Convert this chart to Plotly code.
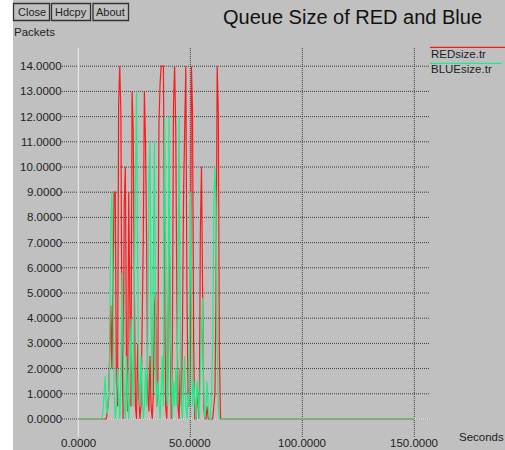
import plotly.graph_objects as go

# ---- data -------------------------------------------------------------
SERIES_NAMES = ["REDsize.tr", "BLUEsize.tr"]

# queue length samples every 0.5 s starting at t = 10.0 s (one row = 5 s)
T_START = 10.0
DT = 0.5
T_END = 150.0

RED_QUEUE = [
    0, 0, 0, 0, 0, 0, 0.3, 0.8, 2.5, 4.5,
    2.0, 6.0, 9.0, 9.0, 1.5, 0.5, 12.5, 14.0, 12.2, 3.0,
    0.0, 8.5, 10.0, 2.5, 0.3, 9.0, 4.0, 0.5, 13.0, 11.5,
    5.5, 0.5, 0.0, 3.0, 1.0, 0.0, 0.5, 3.5, 7.0, 13.0,
    11.0, 7.0, 1.0, 0.3, 2.5, 0.5, 0.0, 1.0, 4.5, 5.0,
    0.5, 1.0, 11.7, 13.3, 14.0, 14.0, 14.0, 6.0, 0.5, 0.0,
    2.0, 8.0, 2.5, 0.0, 3.0, 12.5, 14.0, 11.5, 5.0, 0.5,
    0.0, 2.0, 0.5, 3.5, 9.0, 12.5, 14.0, 5.0, 1.0, 0.5,
    3.0, 14.0, 12.2, 3.0, 0.0, 0.0, 1.0, 0.5, 0.0, 7.5,
    10.0, 5.0, 0.5, 0.0, 0.0, 0.5, 0.0, 0.0, 0.0, 0.0,
    0.0, 0.5, 1.0, 5.0, 14.0, 12.2, 2.5, 0.0, 0.0, 0.0,
]

BLUE_QUEUE = [
    0, 0, 0.3, 1.2, 1.7, 0.5, 0.2, 1.0, 2.0, 7.5,
    9.0, 5.0, 1.0, 0.0, 0.5, 2.0, 0.5, 0.0, 1.5, 5.8,
    3.0, 0.5, 0.0, 2.5, 1.0, 0.0, 1.0, 4.0, 2.0, 0.5,
    5.5, 10.0, 13.0, 6.0, 1.5, 0.5, 2.5, 1.0, 0.0, 0.5,
    2.0, 0.5, 3.0, 9.5, 11.0, 4.0, 1.0, 6.0, 11.0, 3.0,
    0.5, 1.5, 0.5, 0.0, 1.0, 2.5, 0.5, 12.0, 7.0, 1.0,
    0.5, 12.0, 4.0, 1.0, 0.0, 1.5, 0.5, 2.0, 0.5, 5.0,
    12.0, 3.0, 0.5, 0.0, 1.0, 2.5, 0.5, 0.0, 1.0, 0.5,
    9.0, 3.0, 0.5, 1.5, 0.5, 0.0, 1.5, 0.5, 0.0, 2.0,
    3.5, 4.8, 1.0, 0.0, 0.5, 1.5, 0.5, 0.0, 0.0, 1.0,
    3.0, 8.5, 10.0, 8.5, 3.0, 0.5, 0.0, 0.0, 0.0, 0.0,
]

Y_TICKS = [0, 1, 2, 3, 4, 5, 6, 7, 8, 9, 10, 11, 12, 13, 14]
X_TICKS = [0, 50, 100, 150]

TITLE = "Queue Size of RED and Blue"
Y_LABEL = "Packets"
X_LABEL = "Seconds"
BUTTONS = ["Close", "Hdcpy", "About"]

# ---- geometry / style -------------------------------------------------
W, H = 505, 450
X0_PX, X_SCALE = 78.3, 2.24      # pixel of t=0, pixels per second
Y0_PX, Y_SCALE = 419.0, 25.2     # pixel of q=0, pixels per packet

BG = "#c0c0c0"
TEXT = "#1e1e1e"
GRID = "#3c3c3c"
AXIS = "#ececec"
COLORS = ["#ff1a1a", "#1aef85"]
FONT = "Liberation Sans, Arial, sans-serif"
FS = 11.5


def t_at(px):
    return (px - X0_PX) / X_SCALE


def q_at(py):
    return (Y0_PX - py) / Y_SCALE


def fx(px):
    return px / W


def fy(py):
    return 1 - py / H


fig = go.Figure()

for name, values, color in zip(SERIES_NAMES, [RED_QUEUE, BLUE_QUEUE], COLORS):
    times = [0.0] + [T_START + DT * i for i in range(len(values))] + [T_END]
    queue = [0.0] + list(values) + [0.0]
    fig.add_trace(go.Scatter(
        x=times, y=queue, mode="lines", name=name,
        line=dict(color=color, width=1.2), showlegend=False,
        hoverinfo="skip",
    ))

shapes = []
annotations = []

# dotted grid lines
for q in Y_TICKS:
    shapes.append(dict(type="line", xref="x", yref="y",
                       x0=t_at(62), x1=t_at(429.3), y0=q, y1=q,
                       line=dict(color=GRID, width=1, dash="1px,1px"),
                       layer="below"))
    annotations.append(dict(xref="x", yref="y", x=t_at(62), y=q,
                            text=f"{q:.4f}", showarrow=False,
                            xanchor="right", yanchor="middle",
                            borderpad=0, borderwidth=0,
                            font=dict(family=FONT, size=FS, color=TEXT)))

for t in X_TICKS:
    if t != 0:
        shapes.append(dict(type="line", xref="x", yref="y",
                           x0=t, x1=t, y0=q_at(437), y1=q_at(47),
                           line=dict(color=GRID, width=1, dash="1px,1px"),
                           layer="below"))
    annotations.append(dict(xref="x", yref="paper", x=t, y=fy(443.2),
                            text=f"{t:.4f}", showarrow=False,
                            xanchor="center", yanchor="middle",
                            borderpad=0, borderwidth=0,
                            font=dict(family=FONT, size=FS, color=TEXT)))

# light axis lines
shapes.append(dict(type="line", xref="x", yref="y",
                   x0=0, x1=0, y0=q_at(437), y1=q_at(48),
                   line=dict(color=AXIS, width=1), layer="below"))
shapes.append(dict(type="line", xref="x", yref="y",
                   x0=0, x1=t_at(429.3), y0=0, y1=0,
                   line=dict(color=AXIS, width=1), layer="below"))

# white strip on the left edge
shapes.append(dict(type="rect", xref="paper", yref="paper",
                   x0=0, x1=fx(13), y0=0, y1=1,
                   fillcolor="white", line=dict(width=0), layer="above"))

# buttons
button_boxes = [(13.5, 49.5), (51.5, 90.5), (93.0, 128.5)]
for label, (bx0, bx1) in zip(BUTTONS, button_boxes):
    shapes.append(dict(type="rect", xref="paper", yref="paper",
                       x0=fx(bx0), x1=fx(bx1), y0=fy(20.5), y1=fy(3.5),
                       line=dict(color="#333333", width=1.3),
                       fillcolor="rgba(0,0,0,0)", layer="above"))
    annotations.append(dict(xref="paper", yref="paper",
                            x=fx((bx0 + bx1) / 2), y=fy(12.3),
                            text=label, showarrow=False,
                            xanchor="center", yanchor="middle",
                            borderpad=0, borderwidth=0,
                            font=dict(family=FONT, size=11, color=TEXT)))

# title and axis names
annotations.append(dict(xref="paper", yref="paper", x=fx(352), y=fy(17.5),
                        text=TITLE, showarrow=False, xanchor="center",
                        yanchor="middle", borderpad=0, borderwidth=0,
                        font=dict(family=FONT, size=20, color="#111111")))
annotations.append(dict(xref="paper", yref="paper", x=fx(13.5), y=fy(31.8),
                        text=Y_LABEL, showarrow=False, xanchor="left",
                        yanchor="middle", borderpad=0, borderwidth=0,
                        font=dict(family=FONT, size=FS, color=TEXT)))
annotations.append(dict(xref="paper", yref="paper", x=fx(459), y=fy(436.7),
                        text=X_LABEL, showarrow=False, xanchor="left",
                        yanchor="middle", borderpad=0, borderwidth=0,
                        font=dict(family=FONT, size=FS, color=TEXT)))

# series key in the top-right corner
key_rows = [(47.3, 54.3, 505), (63.3, 69.5, 502)]
for name, color, (ly, ty, lx1) in zip(SERIES_NAMES, COLORS, key_rows):
    shapes.append(dict(type="line", xref="paper", yref="paper",
                       x0=fx(430), x1=fx(lx1), y0=fy(ly), y1=fy(ly),
                       line=dict(color=color, width=1.2), layer="above"))
    annotations.append(dict(xref="paper", yref="paper", x=fx(430.5), y=fy(ty),
                            text=name, showarrow=False, xanchor="left",
                            yanchor="middle", borderpad=0, borderwidth=0,
                            font=dict(family=FONT, size=FS, color=TEXT)))

fig.update_layout(
    width=W, height=H,
    margin=dict(l=0, r=0, t=0, b=0, pad=0),
    paper_bgcolor=BG, plot_bgcolor=BG,
    xaxis=dict(range=[t_at(0), t_at(W)], visible=False, fixedrange=True),
    yaxis=dict(range=[q_at(H), q_at(0)], visible=False, fixedrange=True),
    shapes=shapes, annotations=annotations,
    showlegend=False,
)

fig.write_html("out.html", config={"displayModeBar": False})
